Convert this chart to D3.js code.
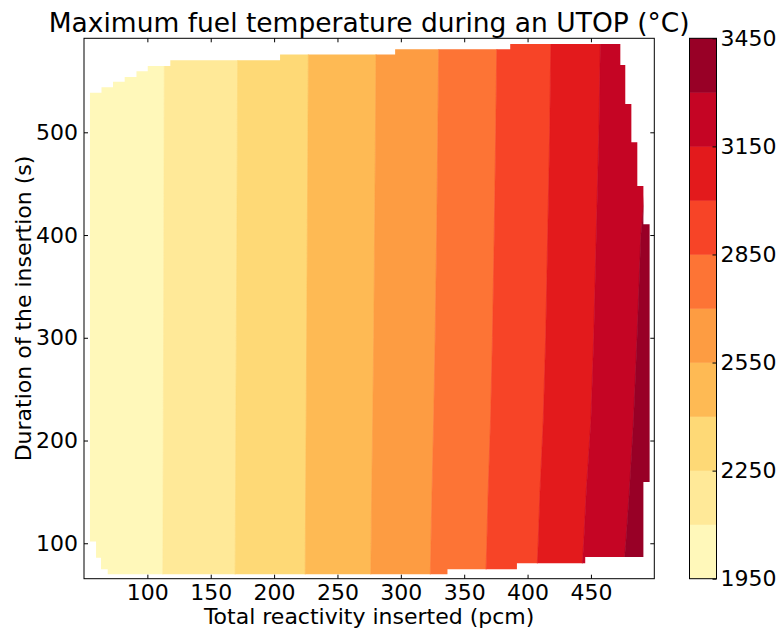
<!DOCTYPE html>
<html>
<head>
<meta charset="utf-8">
<script src="https://cdn.jsdelivr.net/npm/d3@7/dist/d3.min.js"></script>
<style>
  body { margin: 0; background: #fff; }
  text { font-family: "DejaVu Sans", sans-serif; fill: #000; }
</style>
</head>
<body>
<div class="chart"></div>
<script>
// contour levels (°C)
const levels = [1950, 2100, 2250, 2400, 2550, 2700, 2850, 3000, 3150, 3300, 3450];

// durations (s) at which the isotherm positions were read
const durations = [65, 100, 150, 220, 300, 400, 500, 592];

// reactivity (pcm) where each isotherm crosses, one value per duration above
const iso2100 = [112.1, 112.3, 112.4, 112.6, 112.8, 113.0, 113.2, 113.4];
const iso2250 = [169.2, 169.4, 169.6, 169.8, 170.2, 170.6, 171.0, 171.3];
const iso2400 = [224.5, 224.7, 224.9, 225.3, 225.7, 226.2, 226.7, 227.1];
const iso2550 = [276.2, 276.6, 277.0, 277.8, 278.6, 279.3, 280.0, 280.5];
const iso2700 = [323.2, 323.8, 324.6, 325.9, 327.1, 328.3, 329.2, 330.0];
const iso2850 = [367.0, 367.9, 368.9, 370.8, 372.3, 373.7, 374.9, 375.8];
const iso3000 = [407.2, 408.4, 409.8, 412.4, 414.3, 415.9, 417.5, 418.4];
const iso3150 = [442.4, 444.3, 446.3, 450.0, 452.2, 454.2, 456.3, 457.5];
const iso3300 = [475.1, 477.5, 480.3, 483.6, 486.4, 489.4, 496.8, 500.8];

// outline of the computed domain (reactivity pcm, duration s)
const outlineRho = [54.7, 63.8, 63.8, 72.9, 72.9, 82.1, 82.1, 91.4, 91.4, 100.3, 100.3, 118.1, 118.1,
  204.7, 204.7, 295.5, 295.5, 386.3, 386.3, 473.2, 473.2, 477.1, 477.1, 481.9, 481.9, 486.6, 486.6,
  491.4, 491.4, 496.3, 496.3, 491.4, 491.4, 445.5, 445.5, 391.6, 391.6, 336.8, 336.8, 68.7, 68.7,
  63.4, 63.4, 59.5, 59.5, 54.7];
const outlineDur = [538.6, 538.6, 543.8, 543.8, 549.2, 549.2, 553.8, 553.8, 559.4, 559.4, 564.5, 564.5, 570.2,
  570.2, 575.7, 575.7, 580.8, 580.8, 586.0, 586.0, 565.5, 565.5, 527.6, 527.6, 490.3, 490.3, 447.8,
  447.8, 410.5, 410.5, 159.7, 159.7, 86.7, 86.7, 80.5, 80.5, 74.7, 74.7, 69.9, 69.9, 74.7,
  74.7, 86.0, 86.0, 101.6, 101.6];

const xTicks = [100, 150, 200, 250, 300, 350, 400, 450];
const yTicks = [100, 200, 300, 400, 500];
const cbTicks = [1950, 2250, 2550, 2850, 3150, 3450];

const W = 777, H = 628;
const plot = { left: 84, right: 654.3, top: 38.3, bottom: 578.7 };

const svg = d3.select(".chart").append("svg")
  .attr("width", W).attr("height", H);

const x = d3.scaleLinear().domain([50, 500]).range([plot.left, plot.right]);
const y = d3.scaleLinear().domain([65.5, 591.5]).range([plot.bottom, plot.top]);

// matplotlib YlOrRd, sampled at the middle of each band
const ylorrd = d3.piecewise(d3.interpolateRgb, ["#ffffcc", "#ffeda0", "#fed976", "#feb24c",
  "#fd8d3c", "#fc4e2a", "#e31a1c", "#bd0026", "#800026"]);
const nBands = levels.length - 1;
const bandColor = d3.range(nBands).map(i => ylorrd((i + 0.5) / nBands));

// isotherm table built from the named arrays
const isos = [iso2100, iso2250, iso2400, iso2550, iso2700, iso2850, iso3000, iso3150, iso3300];
const leftEdge = durations.map(() => 40);
const rightEdge = durations.map(() => 510);

const outline = outlineRho.map((r, i) => [r, outlineDur[i]]);
svg.append("clipPath").attr("id", "domain-clip")
  .append("path")
  .attr("d", d3.line().x(d => x(d[0])).y(d => y(d[1]))(outline) + "Z");

const bands = d3.range(nBands).map(i => {
  const lo = i === 0 ? leftEdge : isos[i - 1];
  const hi = i === nBands - 1 ? rightEdge : isos[i];
  const pts = durations.map((d, j) => [lo[j], d])
    .concat(durations.map((d, j) => [hi[j], d]).reverse());
  return { pts, color: bandColor[i] };
});

const area = svg.append("g").attr("clip-path", "url(#domain-clip)");
area.selectAll("path.band")
  .data(bands)
  .enter()
  .append("path")
  .attr("class", "band")
  .attr("d", d => d3.line().x(p => x(p[0])).y(p => y(p[1]))(d.pts) + "Z")
  .attr("fill", d => d.color)
  .attr("stroke", d => d.color)
  .attr("stroke-width", 0.6);

// axes, ticks inward on all four sides
function styleAxis(g) {
  g.select(".domain").remove();
  g.selectAll(".tick line").attr("stroke", "#000").attr("stroke-width", 1);
  g.selectAll(".tick text").style("font-size", "22px");
}
svg.append("g")
  .attr("transform", `translate(0,${plot.bottom})`)
  .call(d3.axisBottom(x).tickValues(xTicks).tickSize(-4).tickPadding(6))
  .call(styleAxis);
svg.append("g")
  .attr("transform", `translate(0,${plot.top})`)
  .call(d3.axisTop(x).tickValues(xTicks).tickSize(-4).tickFormat(""))
  .call(styleAxis);
svg.append("g")
  .attr("transform", `translate(${plot.left},0)`)
  .call(d3.axisLeft(y).tickValues(yTicks).tickSize(-4).tickPadding(6))
  .call(styleAxis);
svg.append("g")
  .attr("transform", `translate(${plot.right},0)`)
  .call(d3.axisRight(y).tickValues(yTicks).tickSize(-4).tickFormat(""))
  .call(styleAxis);

svg.append("rect")
  .attr("x", plot.left).attr("y", plot.top)
  .attr("width", plot.right - plot.left).attr("height", plot.bottom - plot.top)
  .attr("fill", "none").attr("stroke", "#000").attr("stroke-width", 1);

// titles
svg.append("text")
  .attr("x", (plot.left + plot.right) / 2).attr("y", 32)
  .attr("text-anchor", "middle")
  .style("font-size", "26.5px")
  .text("Maximum fuel temperature during an UTOP (°C)");
svg.append("text")
  .attr("x", (plot.left + plot.right) / 2).attr("y", 624)
  .attr("text-anchor", "middle")
  .style("font-size", "22px")
  .text("Total reactivity inserted (pcm)");
svg.append("text")
  .attr("transform", `translate(31,${(plot.top + plot.bottom) / 2}) rotate(-90)`)
  .attr("text-anchor", "middle")
  .style("font-size", "22px")
  .text("Duration of the insertion (s)");

// colorbar
const cb = { left: 689.5, right: 716.5 };
const c = d3.scaleLinear().domain([levels[0], levels[nBands]]).range([plot.bottom, plot.top]);
svg.append("g").selectAll("rect")
  .data(d3.range(nBands))
  .enter()
  .append("rect")
  .attr("x", cb.left)
  .attr("y", i => c(levels[i + 1]))
  .attr("width", cb.right - cb.left)
  .attr("height", i => c(levels[i]) - c(levels[i + 1]))
  .attr("fill", i => bandColor[i])
  .attr("stroke", i => bandColor[i])
  .attr("stroke-width", 0.5);
svg.append("g")
  .attr("transform", `translate(${cb.right},0)`)
  .call(d3.axisRight(c).tickValues(cbTicks).tickSize(-4).tickPadding(4).tickFormat(d3.format("d")))
  .call(styleAxis);
svg.append("rect")
  .attr("x", cb.left).attr("y", plot.top)
  .attr("width", cb.right - cb.left).attr("height", plot.bottom - plot.top)
  .attr("fill", "none").attr("stroke", "#000").attr("stroke-width", 1);
</script>
</body>
</html>
